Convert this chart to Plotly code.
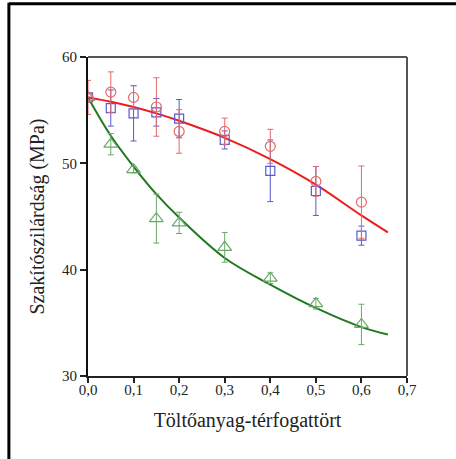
import plotly.graph_objects as go

x_vals = [0.0, 0.05, 0.1, 0.15, 0.2, 0.3, 0.4, 0.5, 0.6]

red_y = [56.2, 56.7, 56.2, 55.3, 53.0, 53.0, 51.6, 48.3, 46.35]
red_err = [1.6, 1.9, 1.1, 2.75, 2.05, 1.25, 1.6, 1.4, 3.4]

blue_y = [56.2, 55.2, 54.7, 54.8, 54.2, 52.2, 49.3, 47.4, 43.2]
blue_err = [0.0, 1.7, 2.6, 1.3, 1.8, 0.85, 2.9, 2.3, 0.9]

green_y = [56.2, 51.8, 49.4, 44.8, 44.4, 42.1, 39.2, 36.8, 34.85]
green_err = [0.0, 1.0, 0.3, 2.3, 1.0, 1.4, 0.5, 0.5, 1.9]

fit_x = [0.0, 0.05, 0.1, 0.15, 0.2, 0.3, 0.4, 0.5, 0.6, 0.658]
red_fit = [56.2, 55.8, 55.3, 54.7, 54.0, 52.4, 50.4, 48.0, 45.1, 43.5]
green_fit = [56.2, 52.6, 49.7, 47.1, 44.9, 41.1, 38.6, 36.4, 34.6, 33.9]

x_ticks = [0.0, 0.1, 0.2, 0.3, 0.4, 0.5, 0.6, 0.7]
y_ticks = [30, 40, 50, 60]

RED_M = "#e36a6a"
BLUE_M = "#5a5ad0"
GREEN_M = "#6aa86a"

fig = go.Figure()

fig.add_trace(go.Scatter(
    x=fit_x, y=red_fit, mode="lines", line=dict(color="#ee1c1c", width=2, shape="spline"),
    showlegend=False, hoverinfo="skip"))
fig.add_trace(go.Scatter(
    x=fit_x, y=green_fit, mode="lines", line=dict(color="#1f7a1f", width=2, shape="spline"),
    showlegend=False, hoverinfo="skip"))

def pts(y, err, color, symbol, size):
    return go.Scatter(
        x=x_vals, y=y, mode="markers",
        marker=dict(symbol=symbol, size=size, color=color,
                    line=dict(color=color, width=1.2)),
        error_y=dict(type="data", array=err, visible=True, color=color,
                     thickness=1, width=3),
        showlegend=False)

fig.add_trace(pts(green_y, green_err, GREEN_M, "triangle-up-open", 12))
fig.add_trace(pts(blue_y, blue_err, BLUE_M, "square-open", 9))
fig.add_trace(pts(red_y, red_err, RED_M, "circle-open", 10))

font_serif = "Liberation Serif"

fig.update_layout(
    width=456, height=459,
    margin=dict(l=88, r=49, t=57, b=83),
    paper_bgcolor="white", plot_bgcolor="white",
    separators=", ",
    font=dict(family=font_serif, size=15, color="#222"),
    xaxis=dict(
        range=[0, 0.7], tickvals=x_ticks, tickformat=".1f",
        ticks="outside", ticklen=5, tickwidth=1.5, tickcolor="#222",
        ticklabelstandoff=-6,
        showline=True, linecolor="#222", linewidth=1.5, mirror=False,
        showgrid=False, zeroline=False,
        title=dict(text="Töltőanyag-térfogattört", font=dict(size=20, family=font_serif), standoff=16),
        tickfont=dict(size=15, family=font_serif),
    ),
    yaxis=dict(
        range=[30, 60], tickvals=y_ticks,
        ticks="outside", ticklen=6, tickwidth=1.5, tickcolor="#222",
        showline=True, linecolor="#111", linewidth=2, mirror=False,
        showgrid=False, zeroline=False,
        title=dict(text="Szakítószilárdság (MPa)", font=dict(size=20, family=font_serif), standoff=12),
        tickfont=dict(size=15, family=font_serif),
    ),
    shapes=[
        dict(type="line", xref="paper", yref="paper", x0=0, x1=1, y0=1, y1=1,
             line=dict(color="#555", width=2)),
        dict(type="line", xref="paper", yref="paper", x0=1, x1=1, y0=0, y1=1,
             line=dict(color="#555", width=2)),
        dict(type="line", xref="paper", yref="paper", x0=-0.248, x1=-0.248, y0=-0.3, y1=1.17,
             line=dict(color="black", width=3)),
        dict(type="line", xref="paper", yref="paper", x0=-0.248, x1=1.16, y0=1.167, y1=1.167,
             line=dict(color="black", width=3)),
    ],
)

fig.write_html(
    "out.html",
    config={"displayModeBar": False},
    post_script="document.body.style.margin='0';document.body.style.overflow='hidden';",
)
